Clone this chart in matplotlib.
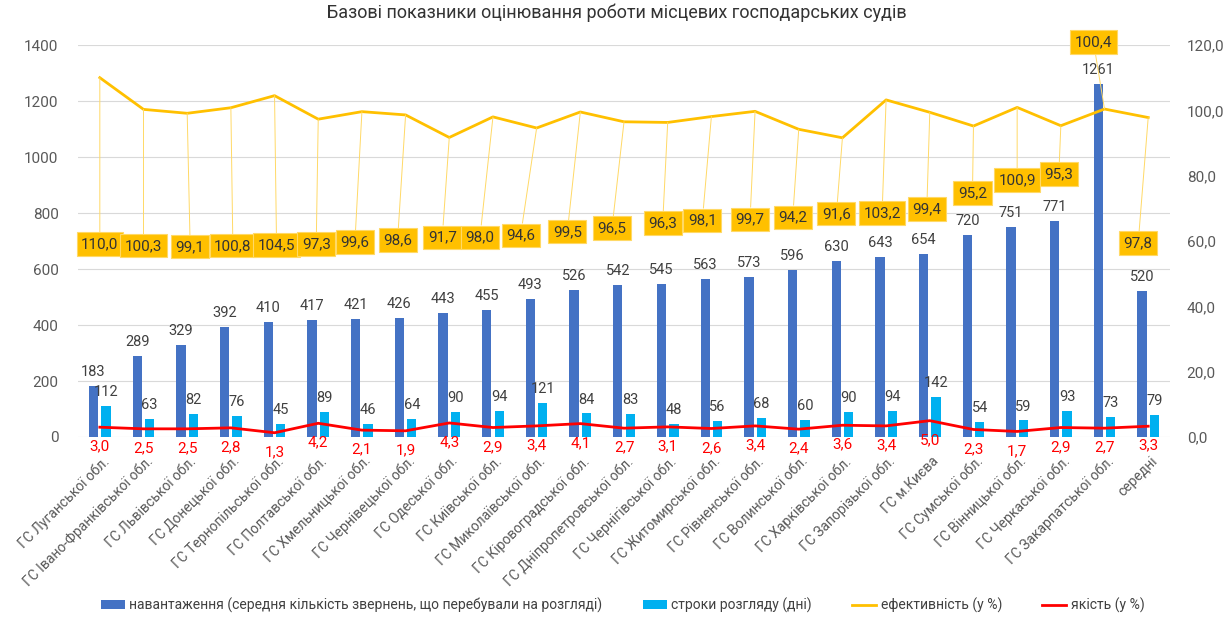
import numpy as np
import matplotlib
matplotlib.use("Agg")
import matplotlib.pyplot as plt
from matplotlib.transforms import ScaledTranslation

plt.rcParams['font.family'] = ['Roboto', 'DejaVu Sans']

courts = ["ГС Луганської обл.", "ГС Івано-Франківської обл.", "ГС Львівської обл.",
          "ГС Донецької обл.", "ГС Тернопільської обл.", "ГС Полтавської обл.",
          "ГС Хмельницької обл.", "ГС Чернівецької обл.", "ГС Одеської обл.",
          "ГС Київської обл.", "ГС Миколаївської обл.", "ГС Кіровоградської обл.",
          "ГС Дніпропетровської обл.", "ГС Чернігівської обл.", "ГС Житомирської обл.",
          "ГС Рівненської обл.", "ГС Волинської обл.", "ГС Харківської обл.",
          "ГС Запорізької обл.", "ГС м.Києва", "ГС Сумської обл.", "ГС Вінницької обл.",
          "ГС Черкаської обл.", "ГС Закарпатської обл.", "середні"]
load = [183, 289, 329, 392, 410, 417, 421, 426, 443, 455, 493, 526, 542, 545,
        563, 573, 596, 630, 643, 654, 720, 751, 771, 1261, 520]
terms = [112, 63, 82, 76, 45, 89, 46, 64, 90, 94, 121, 84, 83, 48, 56, 68,
         60, 90, 94, 142, 54, 59, 93, 73, 79]
efficiency = [110.0, 100.3, 99.1, 100.8, 104.5, 97.3, 99.6, 98.6, 91.7, 98.0,
              94.6, 99.5, 96.5, 96.3, 98.1, 99.7, 94.2, 91.6, 103.2, 99.4,
              95.2, 100.9, 95.3, 100.4, 97.8]
quality = [3.0, 2.5, 2.5, 2.8, 1.3, 4.2, 2.1, 1.9, 4.3, 2.9, 3.4, 4.1, 2.7,
           3.1, 2.6, 3.4, 2.4, 3.6, 3.4, 5.0, 2.3, 1.7, 2.9, 2.7, 3.3]

# placement of the efficiency callouts (right-axis height, shift in px)
eff_label_y = [59.1, 58.5, 58.2, 58.5, 58.8, 59.1, 59.7, 60.3, 61.2, 61.2,
               61.8, 62.8, 64.0, 65.5, 66.4, 66.7, 67.3, 68.3, 68.6, 69.8,
               74.7, 78.7, 80.5, 120.9, 59.4]
eff_label_dx = [0, 0, 3, 2, 2, -2, -7, -8, -7, -13, -16, -13, -12, -5, -9,
                -5, -6, -6, -4, -3, -1, 0, -2, -11, -10]

BLUE, CYAN, ORANGE, RED = '#4472C4', '#00B0F0', '#FFC000', '#FF0000'
TXT = '#404040'

fig = plt.figure(figsize=(12.28, 6.21), dpi=100)
ax = fig.add_axes([0.0635, 0.2963, 0.8893, 0.6312])
ax2 = ax.twinx()

x = np.arange(len(courts))
w = 0.213
off = 0.142
b1 = ax.bar(x - off, load, w, color=BLUE, zorder=2,
            label='навантаження (середня кількість звернень, що перебували на розгляді)')
b2 = ax.bar(x + off, terms, w, color=CYAN, zorder=2, label='строки розгляду (дні)')
ax.bar_label(b1, padding=5, fontsize=10.5, color=TXT)
ax.bar_label(b2, padding=5, fontsize=10.5, color=TXT)

ax.set_xlim(-0.5, len(courts) - 0.5)
ax.set_ylim(0, 1400)
ax.set_yticks(range(0, 1401, 200))
ax.grid(axis='y', color='#D9D9D9', lw=0.8, zorder=0)
ax.set_axisbelow(True)

ax2.set_ylim(0, 120)
ax2.set_yticks(range(0, 121, 20))
ax2.set_yticklabels([f"{v:.1f}".replace('.', ',') for v in range(0, 121, 20)])

l1, = ax2.plot(x, efficiency, color=ORANGE, lw=2.0, zorder=3, label='ефективність (у %)')
l2, = ax2.plot(x, quality, color=RED, lw=2.0, zorder=3, label='якість (у %)')

unit = 1 / 43.67
for i, v in enumerate(efficiency):
    ax2.annotate(f"{v:.1f}".replace('.', ','), xy=(i, v),
                 xytext=(i + eff_label_dx[i] * unit, eff_label_y[i]),
                 ha='center', va='center', fontsize=11, color='#333333',
                 annotation_clip=False, zorder=5,
                 bbox=dict(boxstyle='square,pad=0.3', fc=ORANGE, ec='#FFD966', lw=0.8),
                 arrowprops=dict(arrowstyle='-', color='#FFD966', lw=0.7,
                                 shrinkA=0, shrinkB=0))

for i, v in enumerate(quality):
    ax2.annotate(f"{v:.1f}".replace('.', ','), xy=(i, v), xytext=(0, -14),
                 textcoords='offset points', ha='center', va='center',
                 fontsize=11, color=RED, annotation_clip=False, zorder=5)

for a in (ax, ax2):
    for s in a.spines.values():
        s.set_visible(False)
    a.tick_params(length=0, labelsize=11, labelcolor='#595959')
ax.tick_params(axis='y', pad=14)
ax2.tick_params(axis='y', pad=12)

ax.set_xticks(x)
ax.set_xticklabels(courts, rotation=45, ha='right', va='center',
                   rotation_mode='anchor', fontsize=10, color='#595959')
ax.tick_params(axis='x', pad=16)
shift = ScaledTranslation(5 / 72, 0, fig.dpi_scale_trans)
for lab in ax.get_xticklabels():
    lab.set_transform(lab.get_transform() + shift)

fig.suptitle('Базові показники оцінювання роботи місцевих господарських судів',
             x=0.502, y=0.995, fontsize=13, color='#333333')

fig.legend(handles=[b1, b2, l1, l2], loc='center', bbox_to_anchor=(0.507, 0.025),
           ncol=4, frameon=False, fontsize=10, labelcolor='#404040',
           handlelength=1.75, handleheight=0.6, handletextpad=0.3, columnspacing=2.9)

fig.savefig('out.png', dpi=100)
